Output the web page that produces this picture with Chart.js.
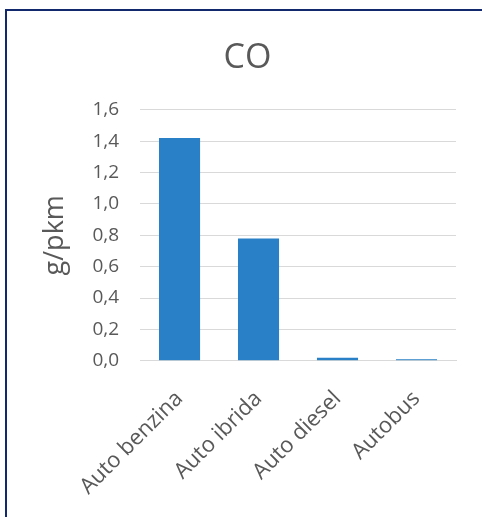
<!DOCTYPE html>
<html lang="it">
<head>
<meta charset="UTF-8">
<title>CO</title>
<script src="https://cdn.jsdelivr.net/npm/chart.js"></script>
<style>
html, body {
	margin: 0;
	padding: 0;
	background: #ffffff;
	overflow: hidden;
}

.frame {
	position: absolute;
	left: 5px;
	top: 9px;
	width: 490px;
	height: 520px;
	border: 2px solid #12296e;
	box-sizing: border-box;
}

.displayChart {
	position: absolute;
	left: 0;
	top: 0;
	width: 482px;
	height: 525px;
}
</style>
</head>
<body>
	<div class="frame"></div>
	<div class="displayChart">
		<canvas id="chartCO"></canvas>
	</div>
	<script>
	const categorie = ['Auto benzina', 'Auto ibrida', 'Auto diesel', 'Autobus'];
	const valoriCO = [1.42, 0.78, 0.02, 0.01];
	const tickMax = 1.6;
	const tickStep = 0.2;

	const ctx = document.getElementById('chartCO').getContext('2d');
	const myChart = new Chart(ctx, {
		type: 'bar',
		data: {
			labels: categorie,
			datasets: [{
				label: 'CO',
				data: valoriCO,
				backgroundColor: '#2980c6',
				borderWidth: 0,
				categoryPercentage: 1.0,
				barPercentage: 0.52
			}]
		},
		options: {
			responsive: true,
			maintainAspectRatio: false,
			animation: false,
			layout: {
				padding: { left: 39, right: 26, top: 38, bottom: 0 }
			},
			plugins: {
				legend: { display: false },
				tooltip: { enabled: false },
				title: {
					display: true,
					text: 'CO',
					color: '#595959',
					font: { family: 'Open Sans', size: 34, weight: 'normal' },
					padding: { top: 0, bottom: 31 }
				}
			},
			scales: {
				x: {
					grid: { display: false, drawTicks: false },
					border: { display: true, color: '#d9d9d9', width: 1 },
					ticks: {
						color: '#595959',
						font: { family: 'Open Sans', size: 22 },
						maxRotation: 45,
						minRotation: 45,
						padding: 25
					}
				},
				y: {
					min: 0,
					max: tickMax,
					grid: { color: '#d9d9d9', lineWidth: 1, drawTicks: false },
					border: { display: false },
					ticks: {
						stepSize: tickStep,
						color: '#595959',
						font: { family: 'Open Sans', size: 19 },
						padding: 21,
						callback: v => v.toFixed(1).replace('.', ',')
					},
					title: {
						display: true,
						text: 'g/pkm',
						color: '#595959',
						font: { family: 'Open Sans', size: 27 },
						padding: { top: 0, bottom: 0 }
					}
				}
			}
		}
	});
	</script>
</body>
</html>
